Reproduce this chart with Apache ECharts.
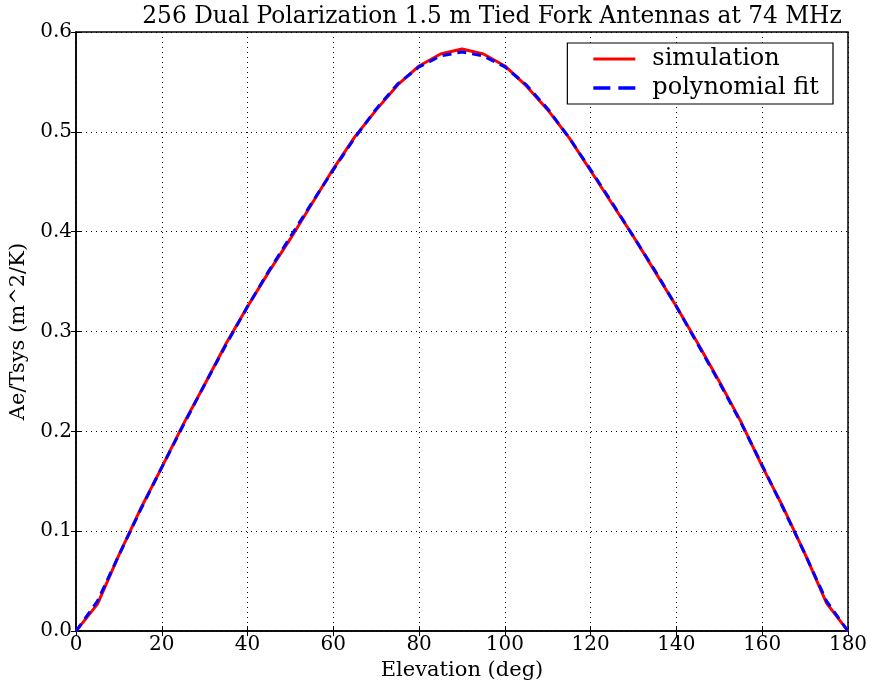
<!DOCTYPE html>
<html>
<head>
<meta charset="utf-8">
<script src="https://cdn.jsdelivr.net/npm/echarts@6/dist/echarts.min.js"></script>
<style>
  html, body { margin: 0; padding: 0; background: #fff; }
  #main { width: 875px; height: 686px; }
</style>
</head>
<body>
<div id="main"></div>
<script>
// elevation angles (deg)
var elevation = [0, 5, 10, 15, 20, 25, 30, 35, 40, 45, 50, 55, 60, 65, 70, 75, 80, 85, 90,
                 95, 100, 105, 110, 115, 120, 125, 130, 135, 140, 145, 150, 155, 160, 165, 170, 175, 180];
// simulated Ae/Tsys
var simulation = [0.000, 0.027, 0.076, 0.122, 0.164, 0.207, 0.247, 0.288, 0.325, 0.360, 0.393, 0.428, 0.463, 0.495, 0.522, 0.547, 0.566, 0.578, 0.583,
                  0.578, 0.566, 0.546, 0.522, 0.494, 0.461, 0.428, 0.395, 0.360, 0.325, 0.288, 0.250, 0.210, 0.165, 0.123, 0.077, 0.028, 0.000];
// polynomial fit
var polyFit = [0.000, 0.030, 0.076, 0.121, 0.164, 0.206, 0.247, 0.287, 0.325, 0.361, 0.395, 0.429, 0.462, 0.494, 0.523, 0.548, 0.565, 0.576, 0.580,
               0.576, 0.565, 0.547, 0.523, 0.494, 0.462, 0.429, 0.395, 0.361, 0.325, 0.287, 0.249, 0.209, 0.166, 0.122, 0.077, 0.030, 0.000];

var serif = "DejaVu Serif";

function pairs(xs, ys) {
  var out = [];
  for (var i = 0; i < xs.length; i++) {
    out.push([xs[i], ys[i]]);
  }
  return out;
}

var myChart = echarts.init(document.getElementById('main'));
var option = {
  animation: false,
  backgroundColor: '#fff',
  title: {
    text: '256 Dual Polarization 1.5 m Tied Fork Antennas at 74 MHz',
    left: 487,
    textAlign: 'center',
    top: 0,
    textStyle: { fontFamily: serif, fontSize: 23.3, fontWeight: 'normal', color: '#000' }
  },
  grid: {
    left: 76, right: 27, top: 32, bottom: 54,
    show: true, borderColor: '#000', borderWidth: 1.5, backgroundColor: '#fff'
  },
  legend: {
    right: 42, top: 43,
    orient: 'vertical',
    backgroundColor: '#fff',
    borderColor: '#000', borderWidth: 1.2, borderRadius: 0,
    padding: [4, 14, 4, 26],
    itemWidth: 42, itemHeight: 14, itemGap: 5,
    textStyle: { fontFamily: serif, fontSize: 24, color: '#000', padding: [0, 0, 0, 12] },
    data: [
      { name: 'simulation', icon: 'path://M0,5.5 L42,5.5 L42,8.5 L0,8.5 Z', itemStyle: { color: '#ff0000' } },
      { name: 'polynomial fit', icon: 'path://M0,5.5 L15,5.5 L15,8.5 L0,8.5 Z M22,5.5 L37,5.5 L37,8.5 L22,8.5 Z', itemStyle: { color: '#0000ff' } }
    ]
  },
  xAxis: [{
    type: 'value', min: 0, max: 180, interval: 20,
    name: 'Elevation (deg)', nameLocation: 'middle', nameGap: 24,
    nameTextStyle: { fontFamily: serif, fontSize: 21, color: '#000' },
    axisLine: { show: true, lineStyle: { color: '#000', width: 1.5 } },
    axisTick: { show: true, inside: true, length: 5, lineStyle: { color: '#000' } },
    axisLabel: { fontFamily: serif, fontSize: 20, color: '#000', margin: 4 },
    splitLine: { show: true, lineStyle: { color: '#000', type: [1, 4], width: 1 } }
  }, {
    type: 'value', min: 0, max: 180, interval: 20, position: 'top',
    axisLine: { show: false },
    axisTick: { show: true, inside: true, length: 5, lineStyle: { color: '#000' } },
    axisLabel: { show: false },
    splitLine: { show: false }
  }],
  yAxis: [{
    type: 'value', min: 0, max: 0.6, interval: 0.1,
    name: 'Ae/Tsys (m^2/K)', nameLocation: 'middle', nameGap: 47,
    nameTextStyle: { fontFamily: serif, fontSize: 21, color: '#000' },
    axisLine: { show: true, lineStyle: { color: '#000', width: 1.5 } },
    axisTick: { show: true, inside: true, length: 5, lineStyle: { color: '#000' } },
    axisLabel: {
      fontFamily: serif, fontSize: 20, color: '#000', margin: 4,
      formatter: function (v) { return v.toFixed(1); }
    },
    splitLine: { show: true, lineStyle: { color: '#000', type: [1, 4], width: 1 } }
  }, {
    type: 'value', min: 0, max: 0.6, interval: 0.1, position: 'right',
    axisLine: { show: false },
    axisTick: { show: true, inside: true, length: 5, lineStyle: { color: '#000' } },
    axisLabel: { show: false },
    splitLine: { show: false }
  }],
  series: [{
    name: 'simulation',
    type: 'line',
    data: pairs(elevation, simulation),
    symbol: 'none',
    lineStyle: { color: '#ff0000', width: 3 },
    itemStyle: { color: '#ff0000' },
    z: 2
  }, {
    name: 'polynomial fit',
    type: 'line',
    data: pairs(elevation, polyFit),
    symbol: 'none',
    lineStyle: { color: '#0000ff', width: 3, type: [9, 6] },
    itemStyle: { color: '#0000ff' },
    z: 3
  }]
};
myChart.setOption(option);
</script>
</body>
</html>
